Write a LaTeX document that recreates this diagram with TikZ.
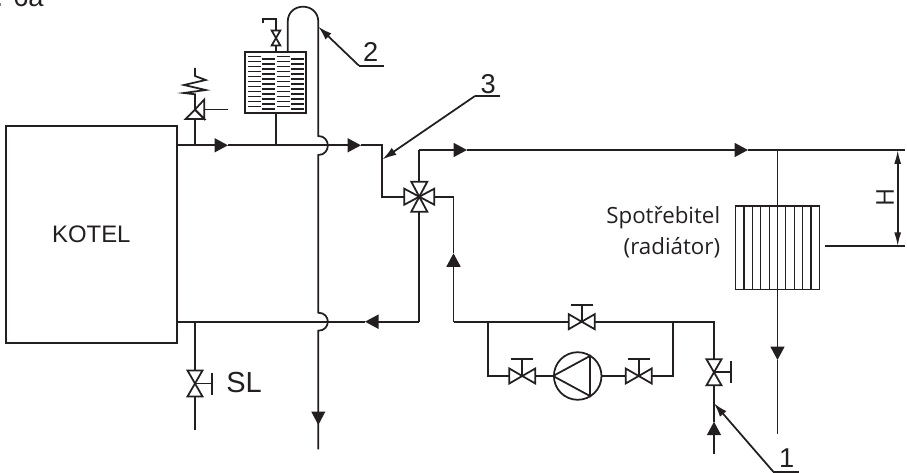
\documentclass[tikz,border=0pt]{standalone}
\usepackage{fontspec}
\setmainfont{Liberation Sans}
\newfontfamily\labelfont{Open Sans}
\usetikzlibrary{arrows.meta}
\definecolor{ink}{RGB}{35, 31, 32}
\tikzset{
    pipe/.style={line width=1pt, draw=ink, line join=miter},
    thinline/.style={line width=0.7pt, draw=ink},
    flow/.style={pipe, -{Triangle[length=0.27cm, width=0.28cm]}},
    leader/.style={line width=1pt, draw=ink, -{Latex[length=0.28cm, width=0.17cm]}},
    dimline/.style={line width=1pt, draw=ink, {Latex[length=0.28cm, width=0.14cm]}-{Latex[length=0.28cm, width=0.14cm]}},
    unit/.style={rectangle, draw=ink, line width=1pt, inner sep=0pt, text=ink},
    bigtext/.style={text=ink, inner sep=0pt, font=\fontsize{15.5}{18}\selectfont},
    sidetext/.style={text=ink, inner sep=0pt, font=\labelfont\fontsize{12.7}{17}\selectfont},
    gatevalve/.pic={
        \draw[pipe] (-13,-7.5) -- (13,7.5) -- (13,-7.5) -- (-13,7.5) -- cycle;
        \coordinate (-a) at (-13,0);
        \coordinate (-b) at (13,0);
    },
    handvalve/.pic={
        \draw[pipe] (-13,-7.5) -- (13,7.5) -- (13,-7.5) -- (-13,7.5) -- cycle;
        \draw[pipe] (0,0) -- (0,-16.7);
        \draw[pipe] (-11,-16.7) -- (11,-16.7);
        \coordinate (-a) at (-13,0);
        \coordinate (-b) at (13,0);
    },
    fourway/.pic={
        \foreach \ang in {0,90,180,270}
            \draw[pipe, rotate=\ang] (0,0) -- (15,-8) -- (15,8) -- cycle;
        \coordinate (-w) at (-15,0);
        \coordinate (-e) at (15,0);
        \coordinate (-n) at (0,-15);
        \coordinate (-s) at (0,15);
    },
    safetyvalve/.pic={
        \draw[pipe] (0,0) -- (-9.3,9.5) -- (9.3,9.5) -- cycle;
        \draw[pipe] (0,0) -- (9.3,-10) -- (9.3,9.5) -- cycle;
        \coordinate (-s) at (0,9.5);
        \coordinate (-e) at (9.3,0);
        \coordinate (-c) at (0,0);
    }
}
\begin{document}
\begin{tikzpicture}[x=0.02cm, y=-0.02cm]
    \useasboundingbox (0,0) rectangle (907,473);

    \node[text=ink, inner sep=0pt, anchor=base east, font=\fontsize{15.5}{18}\selectfont] (caption) at (44,7) {r. 6a};

    \node[unit, minimum width=3.426cm, minimum height=4.34cm, font=\fontsize{13.6}{16}\selectfont] (kotel) at (91.3,234.5) {KOTEL};
    \node[unit, minimum width=1.214cm, minimum height=1.22cm] (tank) at (275.7,82.2) {};
    \node[unit, line width=0.7pt, minimum width=1.672cm, minimum height=1.666cm] (radiator) at (777.5,247.6) {};
    \node[circle, draw=ink, line width=1pt, inner sep=0pt, minimum size=0.952cm] (pump) at (577.7,376) {};

    % tank hatching
    \foreach \col/\off in {248.3/0,262/2.4,276.7/0,291/2.4}
        \foreach \row in {0,...,10}
            \draw[line width=0.85pt, draw=ink] (\col,56.7+\off+5*\row) -- ++(12.8,0);
    \foreach \i in {1,...,9}
        \draw[thinline] (735.7+8.36*\i,206) -- (735.7+8.36*\i,289.3);

    \draw[pipe] (pump.west) -- (590,356) -- (590,396) -- cycle;

    \pic (mixer) at (419.3,196.7) {fourway};
    \pic (vbypass) at (581.7,321.7) {handvalve};
    \pic (vleft) at (522.3,376) {handvalve};
    \pic (vright) at (638.7,376) {handvalve};
    \pic[rotate=-90] (vfill) at (714,372.3) {handvalve};
    \pic[rotate=-90] (vdrain) at (195,383.5) {handvalve};
    \pic[rotate=-90, scale=0.58] (vtank) at (276,38) {gatevalve};
    \pic (vsafe) at (195,109.5) {safetyvalve};

    % supply
    \coordinate (hotin) at (177,145.3);
    \coordinate (hotbranch) at (195,145.3);
    \coordinate (hotarrow) at (228,145.3);
    \coordinate (hottank) at (276,145.3);
    \coordinate (hotarrowb) at (361,145.3);
    \coordinate (hotend) at (382.3,145.3);
    \coordinate (hotdown) at (382.3,196.7);
    \draw[flow] (hotin) -- (hotarrow);
    \draw[flow] (hotarrow) -- (hotarrowb);
    \draw[pipe] (hotarrowb) -- (hotend) -- (hotdown) -- (mixer-w);
    \draw[pipe] (hotbranch) -- (vsafe-s);
    \draw[pipe] (hottank) -- (tank.south -| hottank);

    % safety valve
    \draw[pipe] (195,68) -- (195,76) -- (205.7,80) -- (184,85) -- (205.7,90) -- (184,93) -- (195,94.3) -- (vsafe-c);
    \coordinate (safeend) at (227.7,109.5);
    \draw[pipe] (vsafe-e) -- (safeend);

    % tank valve and riser
    \draw[pipe] (vtank-b) -- (tank.north -| vtank-b);
    \draw[pipe] (vtank-a) -- (276,19) -- (263.3,19) -- (263.3,23.3);
    \draw[pipe] (287.7,51.7) -- (287.7,22) .. controls (287.7,1.6) and (318.3,1.6) .. (318.3,22) -- (318.3,136)
        .. controls (331,136) and (331,155) .. (318.3,155) -- (318.3,312.7)
        .. controls (331,312.7) and (331,330.7) .. (318.3,330.7) -- (318.3,449.3);
    \fill[ink] (311.3,411.7) -- (325.3,411.7) -- (318.3,425) -- cycle;

    % line to consumer
    \coordinate (flowup) at (419.3,150);
    \coordinate (flowa) at (467,150);
    \coordinate (flowb) at (748,150);
    \coordinate (flowtee) at (777.5,150);
    \coordinate (flowend) at (905,150);
    \draw[pipe] (mixer-n) -- (flowup);
    \draw[flow] (flowup) -- (flowa);
    \draw[flow] (flowa) -- (flowb);
    \draw[pipe] (flowb) -- (flowend);
    \draw[thinline] (flowtee) -- (radiator.north);
    \coordinate (radarrow) at (777.5,360);
    \coordinate (radend) at (777.5,434);
    \draw[flow] (radiator.south) -- (radarrow);
    \draw[thinline] (radiator.north) -- (radiator.south);
    \draw[pipe] (radarrow) -- (radend);

    % return
    \coordinate (retdown) at (419.3,321.7);
    \coordinate (retarrow) at (365,321.7);
    \coordinate (retend) at (177,321.7);
    \draw[pipe] (mixer-s) -- (retdown);
    \draw[flow] (retdown) -- (retarrow);
    \draw[pipe] (retarrow) -- (retend);
    \coordinate (drainend) at (195,430);
    \draw[pipe] (195,321.7) -- (vdrain-a);
    \draw[pipe] (vdrain-b) -- (drainend);

    % pump group
    \coordinate (bypassin) at (453.5,321.7);
    \coordinate (bypassarrow) at (453.5,253.3);
    \coordinate (bypasstop) at (453.5,196.7);
    \coordinate (pumpa) at (488.3,321.7);
    \coordinate (pumpb) at (672.7,321.7);
    \coordinate (fillcorner) at (714,321.7);
    \draw[flow] (bypassin) -- (bypassarrow);
    \draw[pipe] (bypassarrow) -- (bypasstop) -- (mixer-e);
    \draw[pipe] (bypassin) -- (vbypass-a);
    \draw[pipe] (vbypass-b) -- (fillcorner) -- (vfill-a);
    \draw[pipe] (pumpa) |- (vleft-a);
    \draw[pipe] (vleft-b) -- (pump);
    \draw[pipe] (pump) -- (vright-a);
    \draw[pipe] (vright-b) -| (pumpb);

    % fill
    \coordinate (fillend) at (714,454);
    \coordinate (fillarrow) at (714,421.7);
    \coordinate (filljoin) at (714,403.3);
    \draw[flow] (fillend) -- (fillarrow);
    \draw[pipe] (fillarrow) -- (vfill-b);

    % height
    \coordinate (hbase) at (825,246.3);
    \coordinate (hend) at (905,246.3);
    \coordinate (htop) at (897.7,150);
    \coordinate (hbot) at (897.7,246.3);
    \draw[pipe] (hbase) -- (hend);
    \draw[dimline] (htop) -- (hbot);
    \node[sidetext, rotate=90, font=\labelfont\fontsize{14}{16}\selectfont] (hlabel) at (885,197.7) {H};

    \node[sidetext, anchor=east] (spot) at (720.5,218) {Spotřebitel};
    \node[sidetext, anchor=east] (radlabel) at (720.5,248) {(radiátor)};
    \node[text=ink, inner sep=0pt, font=\fontsize{16.5}{18}\selectfont] (sl) at (244,383) {SL};

    % numbered leaders
    \coordinate (arm1) at (773.3,471.7);
    \coordinate (arm1e) at (799,471.7);
    \coordinate (arm2) at (359,65.7);
    \coordinate (arm2e) at (384,65.7);
    \coordinate (arm3) at (475,96);
    \coordinate (arm3e) at (500,96);
    \coordinate (tip2) at (318.3,26.7);
    \coordinate (tip3) at (382.5,159.3);
    \draw[pipe] (arm1) -- (arm1e);
    \draw[pipe] (arm2) -- (arm2e);
    \draw[pipe] (arm3) -- (arm3e);
    \draw[leader] (arm1) -- (filljoin);
    \draw[leader] (arm2) -- (tip2);
    \draw[leader] (arm3) -- (tip3);
    \node[bigtext] (num1) at (786.7,458) {1};
    \node[bigtext] (num2) at (370.7,52) {2};
    \node[bigtext] (num3) at (488.3,84) {3};
\end{tikzpicture}
\end{document}
